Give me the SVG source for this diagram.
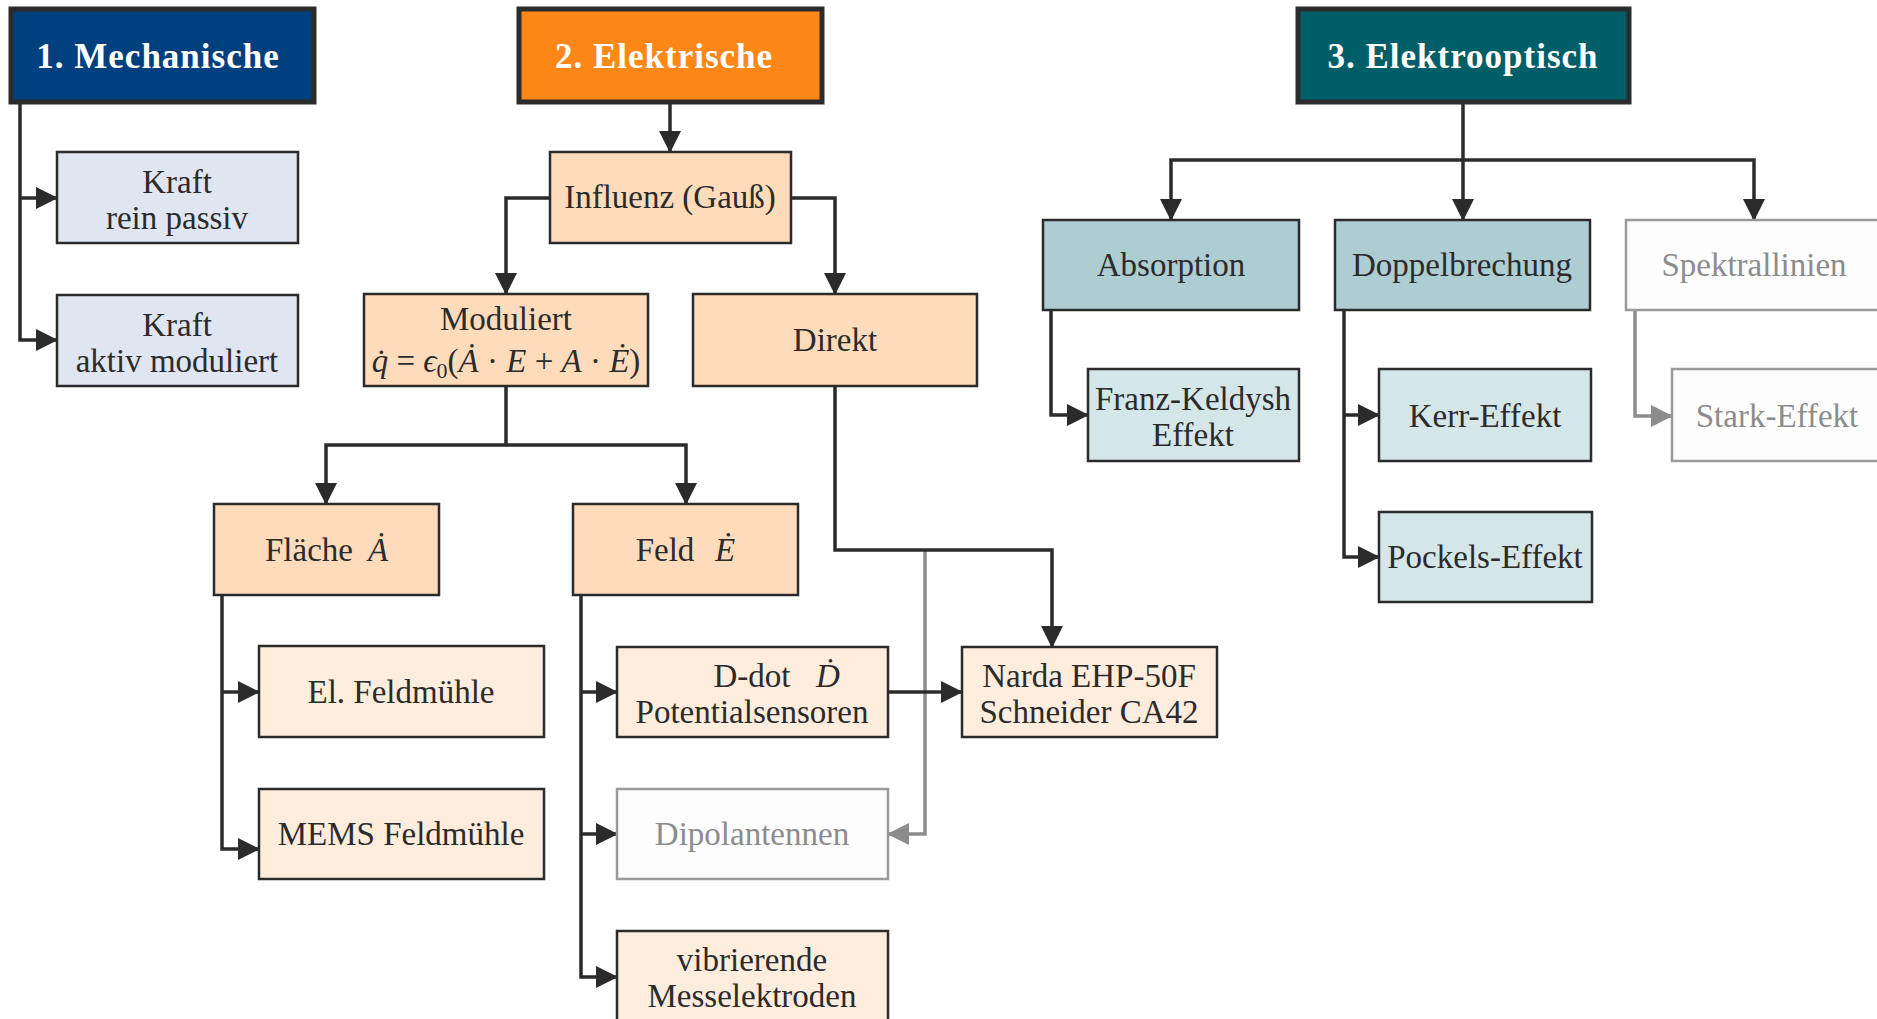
<svg xmlns="http://www.w3.org/2000/svg" width="1877" height="1019" viewBox="0 0 1877 1019">
<defs>
<style>
text{font-family:"Liberation Serif","DejaVu Serif",serif;font-size:33px;fill:#2b2b2b;text-anchor:middle}
.t{font-weight:bold;fill:#fff;font-size:35px;letter-spacing:1px}
.g{fill:#8c8c8c}
.m{font-style:italic}
.sub{font-size:22px}
rect{stroke:#2b2b2b;stroke-width:2.5}
.title{stroke-width:5}
.c-mech{fill:#00407f}.c-el{fill:#ff8717}.c-eo{fill:#005e69}
.c-blue{fill:#dfe5f1}.c-peach{fill:#fedcbb}.c-lpeach{fill:#feecdc}
.c-teal{fill:#aecdd3}.c-lteal{fill:#d5e6e9}
.c-gray{fill:#fdfdfd;stroke:#9a9a9a}
.conn path{fill:none;stroke:#2b2b2b;stroke-width:3.5;stroke-linejoin:miter}
.conn path.gl{stroke:#8c8c8c}
</style>
<marker id="ah" markerUnits="userSpaceOnUse" markerWidth="22" markerHeight="22" refX="21" refY="11" orient="auto"><path d="M0,0 L22,11 L0,22 z" fill="#2b2b2b"/></marker>
<marker id="ahg" markerUnits="userSpaceOnUse" markerWidth="22" markerHeight="22" refX="21" refY="11" orient="auto"><path d="M0,0 L22,11 L0,22 z" fill="#8c8c8c"/></marker>
</defs>
<rect x="0" y="0" width="1877" height="1019" fill="#fff" style="stroke:none"/>
<g class="conn">
<path d="M20,102 V340 H57" marker-end="url(#ah)"/>
<path d="M20,198 H57" marker-end="url(#ah)"/>
<path d="M670,102 V152" marker-end="url(#ah)"/>
<path d="M550,198 H506 V294" marker-end="url(#ah)"/>
<path d="M791,198 H835 V294" marker-end="url(#ah)"/>
<path d="M506,386 V445 H326 V504" marker-end="url(#ah)"/>
<path d="M506,445 H686 V504" marker-end="url(#ah)"/>
<path d="M222,595 V849 H259" marker-end="url(#ah)"/>
<path d="M222,692 H259" marker-end="url(#ah)"/>
<path d="M581,595 V977 H617" marker-end="url(#ah)"/>
<path d="M581,692 H617" marker-end="url(#ah)"/>
<path d="M581,834 H617" marker-end="url(#ah)"/>
<path class="gl" d="M925,550 V834 H888" marker-end="url(#ahg)"/>
<path d="M835,386 V550 H1052 V647" marker-end="url(#ah)"/>
<path d="M888,692 H962" marker-end="url(#ah)"/>
<path d="M1463,102 V220" marker-end="url(#ah)"/>
<path d="M1463,160 H1171 V220" marker-end="url(#ah)"/>
<path d="M1463,160 H1754 V220" marker-end="url(#ah)"/>
<path d="M1051,310 V415 H1088" marker-end="url(#ah)"/>
<path d="M1344,310 V557 H1379" marker-end="url(#ah)"/>
<path d="M1344,415 H1379" marker-end="url(#ah)"/>
<path class="gl" d="M1635,310 V416 H1672" marker-end="url(#ahg)"/>
</g>
<g id="mech"><rect class="title c-mech" x="11" y="9" width="303" height="93"/><text class="t" x="158" y="68">1. Mechanische</text></g>
<g id="elek"><rect class="title c-el" x="519" y="9" width="303" height="93"/><text class="t" x="664" y="68">2. Elektrische</text></g>
<g id="eo"><rect class="title c-eo" x="1298" y="9" width="331" height="93"/><text class="t" x="1463" y="68">3. Elektrooptisch</text></g>
<g id="kraft1"><rect class="c-blue" x="57" y="152" width="241" height="91"/><text x="177" y="193">Kraft</text><text x="177" y="229">rein passiv</text></g>
<g id="kraft2"><rect class="c-blue" x="57" y="295" width="241" height="91"/><text x="177" y="336">Kraft</text><text x="177" y="372">aktiv moduliert</text></g>
<g id="influenz"><rect class="c-peach" x="550" y="152" width="241" height="91"/><text x="670" y="208">Influenz (Gauß)</text></g>
<g id="moduliert"><rect class="c-peach" x="364" y="294" width="284" height="92"/><text x="506" y="330">Moduliert</text><text x="506" y="372"><tspan class="m">q̇</tspan> = <tspan class="m">ϵ</tspan><tspan class="sub" dy="6">0</tspan><tspan dy="-6">(</tspan><tspan class="m">Ȧ</tspan> · <tspan class="m">E</tspan> + <tspan class="m">A</tspan> · <tspan class="m">Ė</tspan>)</text></g>
<g id="direkt"><rect class="c-peach" x="693" y="294" width="284" height="92"/><text x="835" y="351">Direkt</text></g>
<g id="flaeche"><rect class="c-peach" x="214" y="504" width="225" height="91"/><text x="309" y="561">Fläche</text><text class="m" x="378" y="561">Ȧ</text></g>
<g id="feld"><rect class="c-peach" x="573" y="504" width="225" height="91"/><text x="665" y="561">Feld</text><text class="m" x="725" y="561">Ė</text></g>
<g id="elfeld"><rect class="c-lpeach" x="259" y="646" width="285" height="91"/><text x="401" y="703">El. Feldmühle</text></g>
<g id="mems"><rect class="c-lpeach" x="259" y="789" width="285" height="90"/><text x="401" y="845">MEMS Feldmühle</text></g>
<g id="ddot"><rect class="c-lpeach" x="617" y="647" width="271" height="90"/><text x="752" y="687">D-dot</text><text class="m" x="828" y="687">Ḋ</text><text x="752" y="723">Potentialsensoren</text></g>
<g id="dipol"><rect class="c-gray" x="617" y="789" width="271" height="90"/><text class="g" x="752" y="845">Dipolantennen</text></g>
<g id="vibr"><rect class="c-lpeach" x="617" y="931" width="271" height="91"/><text x="752" y="971">vibrierende</text><text x="752" y="1007">Messelektroden</text></g>
<g id="narda"><rect class="c-lpeach" x="962" y="647" width="255" height="90"/><text x="1089" y="687">Narda EHP-50F</text><text x="1089" y="723">Schneider CA42</text></g>
<g id="absorption"><rect class="c-teal" x="1043" y="220" width="256" height="90"/><text x="1171" y="276">Absorption</text></g>
<g id="doppel"><rect class="c-teal" x="1335" y="220" width="255" height="90"/><text x="1462" y="276">Doppelbrechung</text></g>
<g id="spektral"><rect class="c-gray" x="1626" y="220" width="256" height="90"/><text class="g" x="1754" y="276">Spektrallinien</text></g>
<g id="franz"><rect class="c-lteal" x="1088" y="369" width="211" height="92"/><text x="1193" y="410">Franz-Keldysh</text><text x="1193" y="446">Effekt</text></g>
<g id="kerr"><rect class="c-lteal" x="1379" y="369" width="212" height="92"/><text x="1485" y="427">Kerr-Effekt</text></g>
<g id="pockels"><rect class="c-lteal" x="1379" y="512" width="213" height="90"/><text x="1485" y="568">Pockels-Effekt</text></g>
<g id="stark"><rect class="c-gray" x="1672" y="369" width="210" height="92"/><text class="g" x="1777" y="427">Stark-Effekt</text></g>
</svg>
